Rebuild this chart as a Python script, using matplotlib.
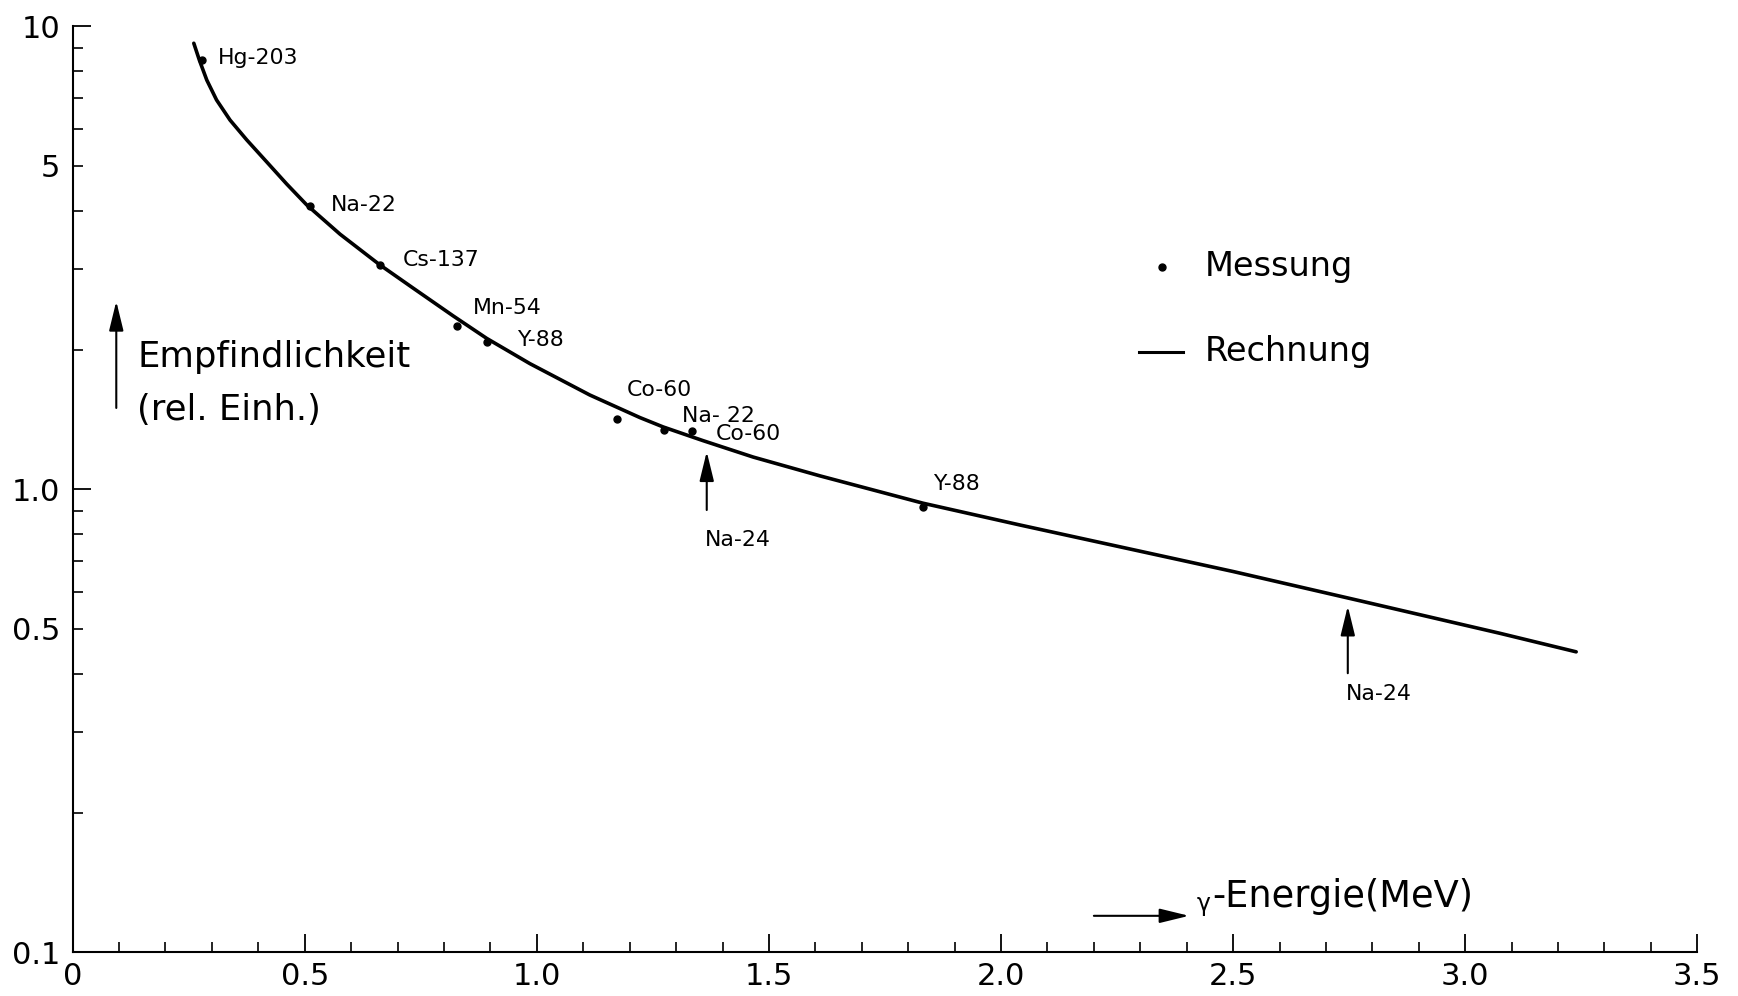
import numpy as np
import matplotlib
matplotlib.use("Agg")
import matplotlib.pyplot as plt
from matplotlib import font_manager

# Rechnung (berechnete Kurve)
e_calc = [0.261, 0.273, 0.289, 0.310, 0.339, 0.375, 0.418, 0.461, 0.504, 0.576,
          0.661, 0.734, 0.820, 0.892, 0.985, 1.114, 1.222, 1.272, 1.358, 1.466,
          1.610, 1.832, 2.041, 2.500, 2.773, 3.075, 3.239]
s_calc = [9.20, 8.46, 7.66, 6.94, 6.28, 5.69, 5.10, 4.57, 4.12, 3.56,
          3.06, 2.72, 2.37, 2.12, 1.87, 1.60, 1.43, 1.365, 1.275, 1.175,
          1.07, 0.934, 0.838, 0.665, 0.575, 0.489, 0.446]

# Messung
nuclides = ['Hg-203', 'Na-22', 'Cs-137', 'Mn-54', 'Y-88', 'Co-60', 'Na- 22', 'Co-60', 'Y-88']
e_meas = [0.279, 0.511, 0.662, 0.829, 0.892, 1.173, 1.273, 1.335, 1.832]
s_meas = [8.46, 4.10, 3.06, 2.25, 2.085, 1.418, 1.344, 1.340, 0.918]

# Na-24 Linien (Pfeile)
e_na24 = [1.366, 2.747]

xticks = [0, 0.5, 1.0, 1.5, 2.0, 2.5, 3.0, 3.5]
xticklabels = ['0', '0.5', '1.0', '1.5', '2.0', '2.5', '3.0', '3.5']

installed = {f.name for f in font_manager.fontManager.ttflist}
cond = [f for f in ['DejaVu Sans Condensed', 'Liberation Sans Narrow'] if f in installed]
tickfont = cond + ['DejaVu Sans']
plt.rcParams['font.family'] = ['DejaVu Sans']

fig = plt.figure(figsize=(17.38, 9.96), dpi=100)
ax = fig.add_axes([0.0418, 0.0437, 0.9348, 0.9297])

ax.plot(e_calc, s_calc, color='black', lw=2.6, solid_capstyle='round',
        solid_joinstyle='round')
ax.plot(e_meas, s_meas, 'o', color='black', ms=5)

ax.set_yscale('log')
ax.set_xlim(0, 3.5)
ax.set_ylim(0.1, 10)

for side in ['top', 'right']:
    ax.spines[side].set_visible(False)
for side in ['left', 'bottom']:
    ax.spines[side].set_linewidth(1.5)

# y-Achse
ax.set_yticks([0.1, 1, 10])
ax.set_yticklabels(['0.1', '1.0', '10'])
ymin = [k * 0.1 for k in range(2, 10)] + list(range(2, 10))
ax.set_yticks(ymin, minor=True)
ax.set_yticklabels(['0.5' if v == 0.5 else '5' if v == 5 else '' for v in ymin], minor=True)

# x-Achse
ax.set_xticks(xticks)
ax.set_xticklabels(xticklabels)
ax.set_xticks(np.arange(0.1, 3.5, 0.1), minor=True)
ax.xaxis.set_minor_formatter(plt.NullFormatter())

ax.tick_params(which='major', direction='in', length=13, width=1.3, labelsize=22, pad=9)
ax.tick_params(which='minor', direction='in', length=7, width=1.2, labelsize=22, pad=9)
ax.tick_params(axis='x', which='both', pad=7)
for lab in ax.get_xticklabels() + ax.get_yticklabels() + ax.get_yticklabels(minor=True):
    lab.set_family(tickfont)

# Beschriftung der Messpunkte
lab_pos = [(0.312, 8.54), (0.556, 4.12), (0.711, 3.13), (0.863, 2.46), (0.957, 2.10),
           (1.194, 1.64), (1.312, 1.44), (1.386, 1.318), (1.854, 1.03)]
for name, (lx, ly) in zip(nuclides, lab_pos):
    ax.text(lx, ly, name, fontsize=15.8, va='center', ha='left')

# Na-24 Pfeile
arrow_tip = [1.207, 0.560]
arrow_tail = [0.903, 0.401]
na_lab = [0.778, 0.361]
for ex, tip, tail, ly in zip(e_na24, arrow_tip, arrow_tail, na_lab):
    ax.annotate('', xy=(ex, tip), xytext=(ex, tail),
                arrowprops=dict(arrowstyle='-|>,head_width=0.22,head_length=0.9',
                                color='black', lw=1.5, mutation_scale=20,
                                shrinkA=0, shrinkB=0))
    ax.text(ex - 0.005, ly, 'Na-24', fontsize=15.8, va='center', ha='left')

# y-Beschriftung
ax.annotate('', xy=(0.094, 2.55), xytext=(0.094, 1.50),
            arrowprops=dict(arrowstyle='-|>,head_width=0.22,head_length=0.9',
                            color='black', lw=1.5, mutation_scale=20,
                            shrinkA=0, shrinkB=0))
ax.text(0.139, 1.935, 'Empfindlichkeit', fontsize=25.5, va='center', ha='left')
ax.text(0.139, 1.485, '(rel. Einh.)', fontsize=25.5, va='center', ha='left')

# x-Beschriftung
ax.annotate('', xy=(2.405, 0.120), xytext=(2.200, 0.120),
            arrowprops=dict(arrowstyle='-|>,head_width=0.22,head_length=0.9',
                            color='black', lw=1.5, mutation_scale=20,
                            shrinkA=0, shrinkB=0))
ax.text(2.422, 0.127, 'γ', fontsize=17, va='center', ha='left')
ax.text(2.455, 0.132, '-Energie(MeV)', fontsize=26.5, va='center', ha='left')

# Legende
ax.plot([2.3466], [3.025], 'o', color='black', ms=5)
ax.text(2.439, 3.025, 'Messung', fontsize=24.2, va='center', ha='left')
ax.plot([2.297, 2.392], [1.982, 1.982], color='black', lw=2.2)
ax.text(2.439, 1.982, 'Rechnung', fontsize=24.2, va='center', ha='left')

fig.savefig('out.png', dpi=100)
